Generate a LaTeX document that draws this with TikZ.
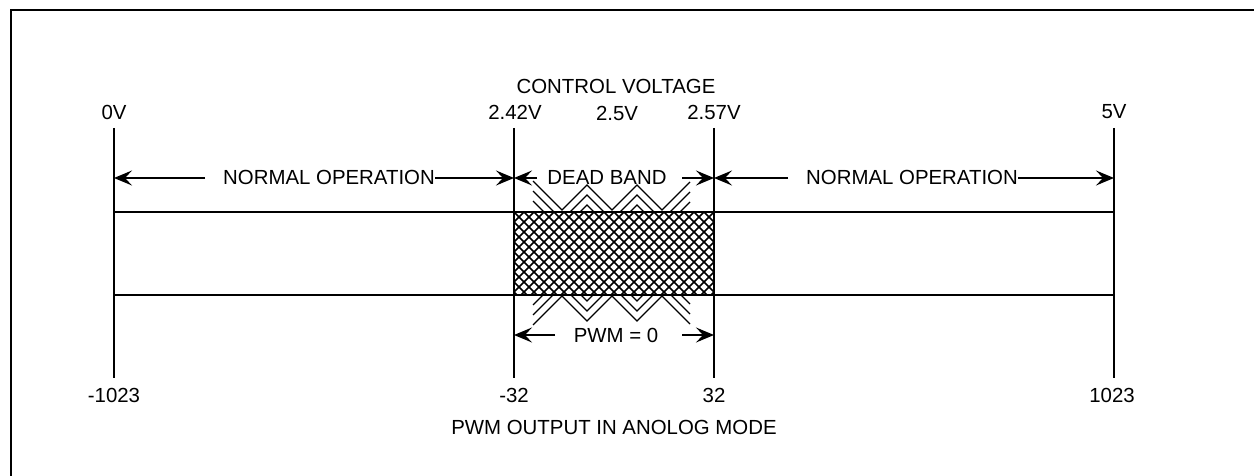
\documentclass[tikz,border=0pt]{standalone}
\usepackage{fontspec}
\setmainfont{Liberation Sans}
\usetikzlibrary{arrows.meta}
\begin{document}
\begin{tikzpicture}[x=1pt,y=-1pt,
  lbl/.style={inner sep=0pt, font=\fontsize{20.4}{24}\selectfont},
  tick/.style={line width=2.2pt},
  dim/.style={line width=1.8pt, -{Stealth[length=18pt,width=15pt,inset=7pt]}},
  hatch/.style={line width=1.6pt},
  zig/.style={line width=1.3pt}
]
\useasboundingbox (0,0) rectangle (1254,476);
\fill[white] (0,0) rectangle (1254,476);
% frame (only top and left visible)
\draw[line width=2.5pt] (11,490) -- (11,10) -- (1270,10);

% tick coordinates
\coordinate (t0) at (114,128);  \coordinate (b0) at (114,378);
\coordinate (t1) at (514,128);  \coordinate (b1) at (514,378);
\coordinate (t2) at (714,128);  \coordinate (b2) at (714,378);
\coordinate (t3) at (1114,128); \coordinate (b3) at (1114,378);

% crosshatch
\begin{scope}
\clip (514,212) rectangle (714,295);
\foreach \c in {404,414,...,724} {\draw[hatch] (\c,212) -- ++(100,100);}
\foreach \c in {504,514,...,824} {\draw[hatch] (\c,212) -- ++(-100,100);}
\end{scope}

% zigzags above
\begin{scope}
\clip (520,165) rectangle (705,212);
\foreach \d in {0,10,20} {
  \draw[zig] (533,181+\d) -- (562,210+\d) -- (587,185+\d) -- (612,210+\d) -- (637,185+\d) -- (662,210+\d) -- (690,182+\d);
}
\end{scope}
% zigzags below
\begin{scope}
\clip (520,295) rectangle (705,340);
\foreach \d in {0,10,20} {
  \draw[zig] (533,325-\d) -- (562,296-\d) -- (587,321-\d) -- (612,296-\d) -- (637,321-\d) -- (662,296-\d) -- (690,324-\d);
}
\end{scope}

% bar
\draw[line width=2.2pt] (114,212) rectangle (1114,295);

% vertical lines
\draw[tick] (t0) -- (b0);
\draw[tick] (t1) -- (b1);
\draw[tick] (t2) -- (b2);
\draw[tick] (t3) -- (b3);

% labels top
\node[lbl] (cv) at (616,86) {CONTROL VOLTAGE};
\node[lbl] (v0) at (114,112) {0V};
\node[lbl] (v1) at (515,112) {2.42V};
\node[lbl] (v15) at (617,113.5) {2.5V};
\node[lbl] (v2) at (714,112) {2.57V};
\node[lbl] (v3) at (1114,112) {5V};

% labels bottom
\node[lbl] (p0) at (114,395) {-1023};
\node[lbl] (p1) at (514,395) {-32};
\node[lbl] (p2) at (714,395) {32};
\node[lbl] (p3) at (1112,395) {1023};
\node[lbl] (pt) at (614,427) {PWM OUTPUT IN ANOLOG MODE};

% dimension texts
\node[lbl] (n1) at (329,177) {NORMAL OPERATION};
\node[lbl] (db) at (607,177) {DEAD BAND};
\node[lbl] (n2) at (912,177) {NORMAL OPERATION};
\node[lbl] (pw) at (616,335) {PWM = 0};

% arrow coordinates
\coordinate (a0) at (114,178);
\coordinate (a1) at (514,178);
\coordinate (a2) at (714,178);
\coordinate (a3) at (1114,178);
\coordinate (n1l) at (205,178);
\coordinate (n1r) at (435,178);
\coordinate (dbl) at (537,178);
\coordinate (dbr) at (682,178);
\coordinate (n2l) at (788,178);
\coordinate (n2r) at (1018,178);
\coordinate (c1) at (514,335);
\coordinate (c2) at (714,335);
\coordinate (pwl) at (555,335);
\coordinate (pwr) at (682,335);

\draw[dim] (n1l) -- (a0);
\draw[dim] (n1r) -- (a1);
\draw[dim] (dbl) -- (a1);
\draw[dim] (dbr) -- (a2);
\draw[dim] (n2l) -- (a2);
\draw[dim] (n2r) -- (a3);
\draw[dim] (pwl) -- (c1);
\draw[dim] (pwr) -- (c2);
\end{tikzpicture}
\end{document}
